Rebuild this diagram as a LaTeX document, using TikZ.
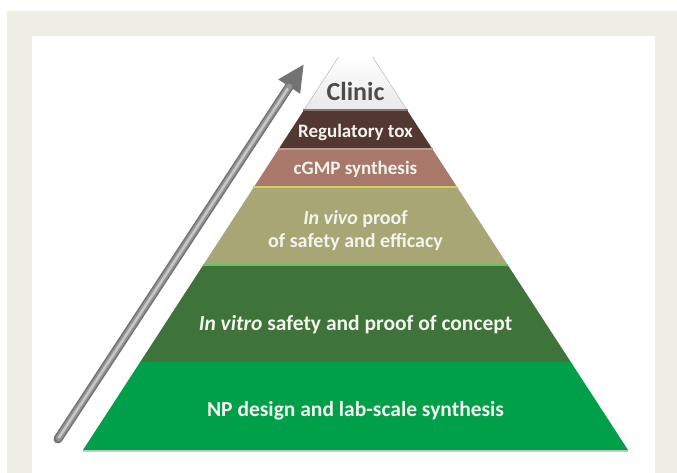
\documentclass[tikz,border=0pt]{standalone}
\usepackage{fontspec}
\setmainfont{Carlito}
\usetikzlibrary{arrows.meta}

\definecolor{frameBeige}{HTML}{EEEEE4}
\definecolor{tierTox}{HTML}{523830}
\definecolor{tierGmp}{HTML}{A8786A}
\definecolor{tierVivo}{HTML}{A7A674}
\definecolor{tierVitro}{HTML}{3E7339}
\definecolor{tierNP}{HTML}{00A04B}
\definecolor{tierText}{HTML}{F4F4EE}

\begin{document}
\begin{tikzpicture}[
    x=1pt, y=-1pt,
    % text inside the pyramid tiers
    tierlabel/.style={text=tierText, font=\bfseries\fontsize{19}{23}\selectfont, align=center},
    widelabel/.style={tierlabel, font=\bfseries\fontsize{21.5}{25}\selectfont},
    % thin lighter rim on top of a tier
    rim/.style={line width=1.2pt}
]
    \useasboundingbox (0,0) rectangle (677,473);

    % --- Background frame ---
    \fill[frameBeige] (7,11) rectangle (677,473);
    \fill[white] (32,36) rectangle (655,473);

    % --- Coordinates of the tier edges (left L, right R) ---
    \coordinate (L0) at (338.45,57);  \coordinate (R0) at (372.55,57);
    \coordinate (L1) at (303.35,111); \coordinate (R1) at (407.65,111);
    \coordinate (L2) at (278,150);    \coordinate (R2) at (433,150);
    \coordinate (L3) at (253.3,188);  \coordinate (R3) at (457.7,188);
    \coordinate (L4) at (202.6,266);  \coordinate (R4) at (508.4,266);
    \coordinate (L5) at (140.2,362);  \coordinate (R5) at (570.8,362);
    \coordinate (L6) at (83,450);     \coordinate (R6) at (628,450);

    % faint shadow under the base
    \draw[gray!40, line width=1.5pt] ([yshift=-1pt]L6) -- ([yshift=-1pt]R6);

    % --- Tiers of the pyramid ---
    \shade[top color=white, bottom color=gray!18] (L0) -- (R0) -- (R1) -- (L1) -- cycle;
    \draw[gray!55, line width=0.5pt] (L0) -- (L1);
    \draw[gray!55, line width=0.5pt] (R0) -- (R1);

    \fill[tierTox] (L1) -- (R1) -- (R2) -- (L2) -- cycle;
    \draw[rim, tierTox!70!white] ([yshift=1pt]L1) -- ([yshift=1pt]R1);

    \fill[tierGmp] (L2) -- (R2) -- (R3) -- (L3) -- cycle;
    \draw[rim, tierGmp!75!white] ([yshift=1pt]L2) -- ([yshift=1pt]R2);

    \fill[tierVivo] (L3) -- (R3) -- (R4) -- (L4) -- cycle;
    \draw[rim, yellow!45!tierVivo] ([yshift=1pt]L3) -- ([yshift=1pt]R3);

    \fill[tierVitro] (L4) -- (R4) -- (R5) -- (L5) -- cycle;
    \draw[rim, tierVitro!60!green!70!white] ([yshift=1pt]L4) -- ([yshift=1pt]R4);

    \fill[tierNP] (L5) -- (R5) -- (R6) -- (L6) -- cycle;

    % --- Labels ---
    \node[text=black!70, font=\bfseries\fontsize{26}{30}\selectfont] (clinic) at (355.5,91) {Clinic};
    \node[tierlabel] (tox) at (355.5,132) {Regulatory tox};
    \node[tierlabel] (gmp) at (355.5,169) {cGMP synthesis};
    \node[tierlabel, font=\bfseries\fontsize{20}{23}\selectfont] (vivo) at (355.5,231) {\textit{In vivo} proof\\of safety and efficacy};
    \node[widelabel] (vitro) at (355.5,325) {\textit{In vitro} safety and proof of concept};
    \node[widelabel] (np) at (355.5,411) {NP design and lab-scale synthesis};

    % --- Progress arrow along the left flank ---
    \coordinate (tail) at (58,439);
    \coordinate (tip) at (304,64);
    \draw[line width=9pt, black!55, line cap=round,
          -{Triangle[width=24pt, length=27pt]}] (tail) -- (tip);
    \draw[line width=6pt, black!42, line cap=round, shorten >=27pt, shorten <=1pt] (tail) -- (tip);
    \draw[line width=2.5pt, black!22, line cap=round, shorten >=30pt, shorten <=2pt] (tail) -- (tip);
\end{tikzpicture}
\end{document}
